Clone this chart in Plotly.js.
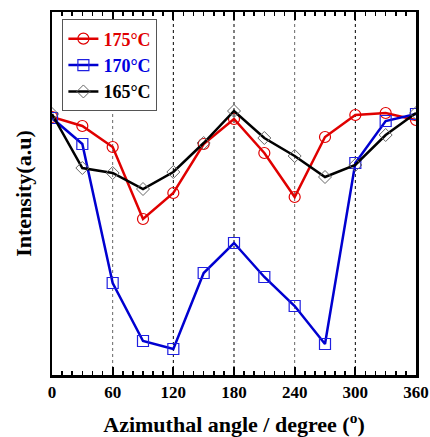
<!DOCTYPE html>
<html><head><meta charset="utf-8">
<script src="https://cdn.plot.ly/plotly-3.0.1.min.js"></script>
<style>body{margin:0;padding:0;background:#fff}#chart{width:430px;height:437px}</style>
</head><body><div id="chart"></div>
<script>
var angles = [0,30,60,90,120,150,180,210,240,270,300,330,360];
var s175 = [258,249,228,156,182,231,256,222,178,238,260,262,255];
var s170 = [257,231,92,34,26,102,132,98,69,31,212,254,261];
var s165 = [261,207,202,186,203,232,264,237,219,198,210,240,262];
var names = ['175°C','170°C','165°C'];
var tickVals = [0,60,120,180,240,300,360];
var dashLines = [60,120,180,240,300];

var traces = [
  {x:angles,y:s175,name:'<span style="color:#e00000">'+names[0]+'</span>',mode:'lines+markers',
   line:{color:'#e00000',width:2.5},marker:{symbol:'circle-open',size:11,color:'#e00000',line:{width:1.2}}},
  {x:angles,y:s170,name:'<span style="color:#0000e0">'+names[1]+'</span>',mode:'lines+markers',
   line:{color:'#0000d0',width:2.5},marker:{symbol:'square-open',size:11,color:'#2020e0',line:{width:1.2}}},
  {x:angles,y:s165,name:'<span style="color:#000">'+names[2]+'</span>',mode:'lines+markers',
   line:{color:'#000',width:2.5},marker:{symbol:'diamond-open',size:10,color:'#666',line:{width:1}}}
];
var shapes = dashLines.map(function(v,i){
  return {type:'line',xref:'x',yref:'paper',x0:v,x1:v,y0:0,y1:1,
    line:{color:(v===60||v===240)?'#666':'#000',width:1,dash:'3px,3px'},layer:'below'};
});
var font = {family:'"Liberation Serif", "Times New Roman", serif',color:'#000'};
var layout = {
  width:430,height:437,margin:{l:52,r:14,t:12,b:62},
  paper_bgcolor:'#fff',plot_bgcolor:'#fff',showlegend:true,
  font:font,
  xaxis:{range:[0,360],tickvals:tickVals,ticks:'inside',ticklen:8,tickwidth:2,tickcolor:'#000',
    mirror:'allticks',showline:true,linewidth:2.5,linecolor:'#000',showgrid:false,zeroline:false,
    minor:{ticks:'inside',dtick:10,ticklen:4,tickwidth:1.5,tickcolor:'#000'},
    tickfont:{family:font.family,size:17,color:'#000',weight:'bold'},
    title:{text:'<b>Azimuthal angle / degree (<sup>o</sup>)</b>',font:{family:font.family,size:22,color:'#000'},standoff:16}},
  yaxis:{range:[0,363],showticklabels:false,ticks:'',showline:true,mirror:true,linewidth:2.5,linecolor:'#000',
    showgrid:false,zeroline:false,
    title:{text:'<b>Intensity(a.u)</b>',font:{family:font.family,size:22,color:'#000'},standoff:12}},
  legend:{x:0.028,y:0.98,xanchor:'left',yanchor:'top',bgcolor:'#fff',bordercolor:'#555',borderwidth:1.2,
    font:{family:font.family,size:18,weight:'bold'},tracegroupgap:0,itemwidth:30},
  shapes:shapes
};
Plotly.newPlot('chart',traces,layout,{displayModeBar:false,staticPlot:true});
</script></body></html>
